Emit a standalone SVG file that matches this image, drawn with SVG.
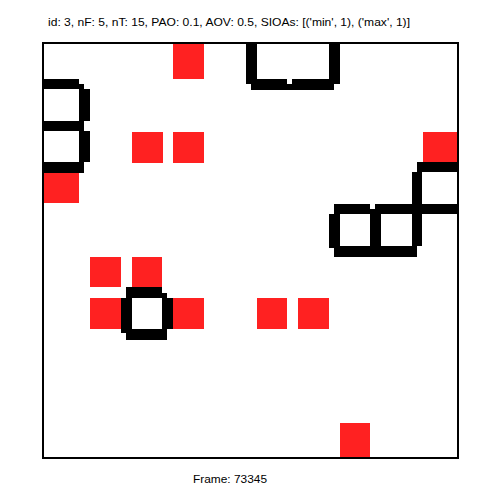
<svg xmlns="http://www.w3.org/2000/svg" width="502" height="502" viewBox="0 0 502 502">
<style>
.r{fill:#ff2121}
.k{fill:#000}
.t{font-family:"Liberation Sans",Arial,sans-serif;fill:#000}
</style>
<rect width="502" height="502" fill="#fff"/>
<text class="t" x="229" y="26" font-size="11.5" text-anchor="middle" textLength="362" lengthAdjust="spacingAndGlyphs">id: 3, nF: 5, nT: 15, PAO: 0.1, AOV: 0.5, SIOAs: [('min', 1), ('max', 1)]</text>
<g id="agents">
<rect class="r" x="173" y="43" width="31" height="36"/>
<rect class="r" x="132" y="132" width="31" height="31"/>
<rect class="r" x="173" y="132" width="31" height="31"/>
<rect class="r" x="423" y="132" width="34" height="30"/>
<rect class="r" x="43" y="173" width="36" height="30"/>
<rect class="r" x="90" y="257" width="31" height="30"/>
<rect class="r" x="132" y="257" width="30" height="30"/>
<rect class="r" x="90" y="298" width="31" height="31"/>
<rect class="r" x="173" y="298" width="31" height="31"/>
<rect class="r" x="257" y="298" width="30" height="31"/>
<rect class="r" x="298" y="298" width="31" height="31"/>
<rect class="r" x="340" y="423" width="30" height="34"/>
</g>
<g id="shapeA" class="k">
<rect x="43" y="79" width="36" height="5"/>
<rect x="43" y="84" width="41" height="5"/>
<rect x="79" y="89" width="11" height="32"/>
<rect x="43" y="121" width="41" height="10"/>
<rect x="79" y="131" width="11" height="31"/>
<rect x="43" y="162" width="41" height="11"/>
</g>
<g id="shapeB" class="k">
<rect x="246" y="43" width="11" height="41"/>
<rect x="251" y="84" width="83" height="6"/>
<rect x="257" y="79" width="30" height="5"/>
<rect x="292" y="79" width="48" height="5"/>
<rect x="329" y="43" width="11" height="36"/>
</g>
<g id="shapeC" class="k">
<rect x="417" y="162" width="40" height="10"/>
<rect x="412" y="172" width="10" height="32"/>
<rect x="334" y="204" width="36" height="10"/>
<rect x="370" y="209" width="5" height="5"/>
<rect x="375" y="204" width="82" height="10"/>
<rect x="329" y="214" width="11" height="34"/>
<rect x="370" y="209" width="11" height="37"/>
<rect x="412" y="214" width="10" height="32"/>
<rect x="334" y="246" width="83" height="11"/>
</g>
<g id="shapeD" class="k">
<rect x="126" y="287" width="36" height="11"/>
<rect x="162" y="293" width="5" height="5"/>
<rect x="121" y="298" width="11" height="35"/>
<rect x="162" y="298" width="11" height="31"/>
<rect x="126" y="329" width="41" height="11"/>
</g>
<g id="connectors"></g>
<rect x="43" y="43" width="415" height="415" fill="none" stroke="#000" stroke-width="2"/>
<text class="t" x="230" y="483" font-size="11.5" text-anchor="middle" textLength="74" lengthAdjust="spacingAndGlyphs">Frame: 73345</text>
</svg>
